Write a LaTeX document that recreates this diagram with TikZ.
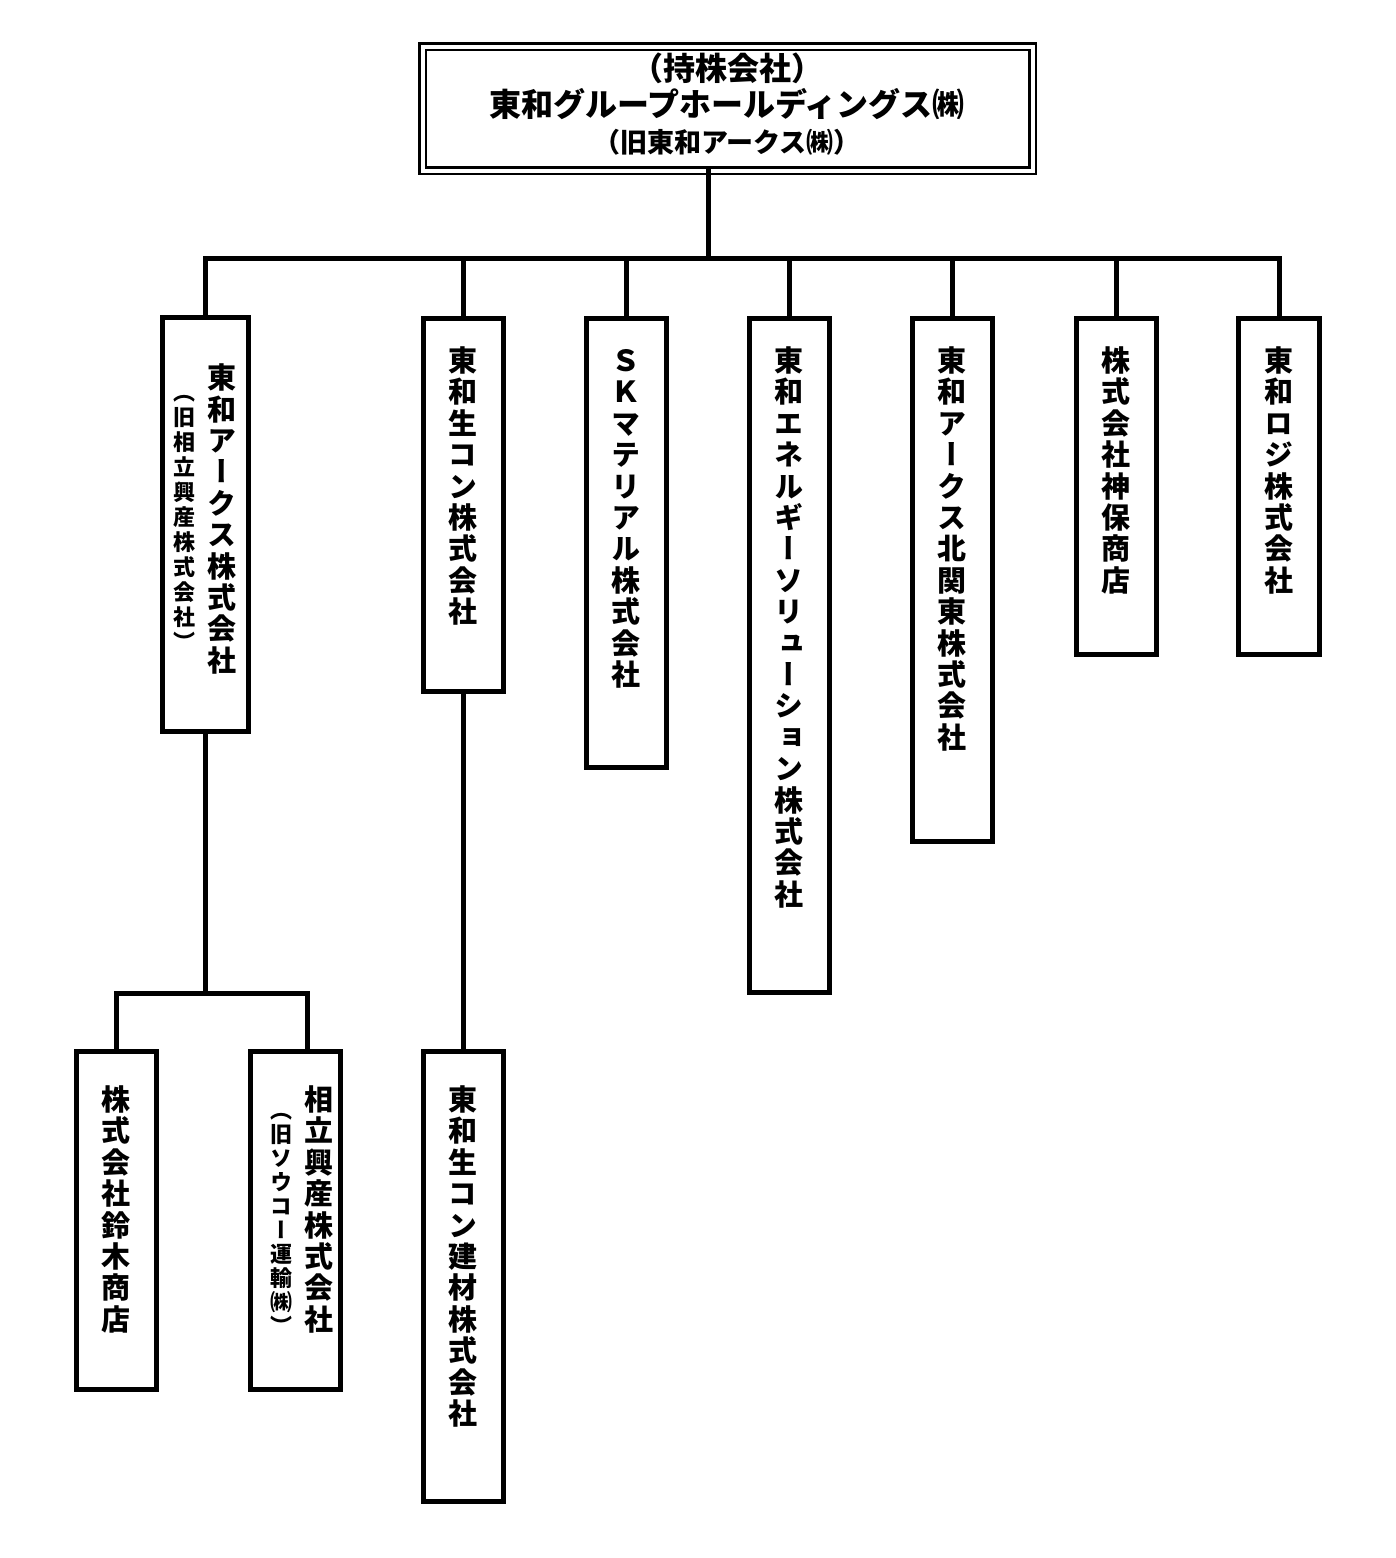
\documentclass[tikz,border=0pt]{standalone}
\usepackage{fontspec}
\newfontfamily\cjk{Noto Sans CJK JP}
\newfontfamily\cjkv[RawFeature=+vert]{Noto Sans CJK JP}
\newdimen\vtpitch
\def\vtloop#1{\ifx\relax#1\else\vtbox{#1}\expandafter\vtloop\fi}
\def\vtbox#1{\hbox to 1em{\vrule width0pt height\dimexpr0.38em+\vtpitch/2\relax depth\dimexpr\vtpitch/2-0.38em\relax\hss\smash{#1}\hss}}
\newcommand\vtext[1]{\vbox{\offinterlineskip\vtloop#1\relax}}
\newcommand\vtx[2][15.7pt]{\vtpitch=#1\relax\vtext{#2}}
\tikzset{
  conn/.style={line width=2.5pt, line join=miter, line cap=rect},
  cbox/.style 2 args={draw, line width=2.5pt, fill=white, inner sep=0pt,
    minimum width=#1*0.5pt, minimum height=#2*0.5pt},
  topbox/.style={draw, line width=1.3pt, double=white, double distance=2pt,
    inner sep=0pt, minimum width=610*0.5pt, minimum height=124*0.5pt},
  vt/.style={inner sep=0pt, anchor=north, font=\cjkv\bfseries\fontsize{14.5pt}{14.5pt}\selectfont},
  vts/.style={inner sep=0pt, anchor=north, font=\cjkv\bfseries\fontsize{11pt}{11pt}\selectfont},
  ht/.style={inner sep=0pt, font=\cjk\bfseries}
}
\begin{document}
\begin{tikzpicture}[x=0.5pt,y=-0.5pt]
\path[use as bounding box, fill=white] (0,0) rectangle (1396,1558);
% top box
\node[topbox] (top) at (727.5,108.5) {};
\node[ht, font=\cjk\bfseries\fontsize{16pt}{16pt}\selectfont] (t1) at (727,68) {（持株会社）};
\node[ht, font=\cjk\bfseries\fontsize{16pt}{16pt}\selectfont] (t2) at (727,104) {東和グループホールディングス㈱};
\node[ht, font=\cjk\bfseries\fontsize{13.5pt}{13.5pt}\selectfont] (t3) at (727,142) {（旧東和アークス㈱）};
% coordinates
\coordinate (trunk) at (708,258);
\coordinate (sub) at (205,993);
% first level boxes
\node[cbox={86}{414}] (B1) at (205,524) {};
\node[cbox={80}{373}] (B2) at (463,504.5) {};
\node[cbox={80}{449}] (B3) at (626,542.5) {};
\node[cbox={80}{674}] (B4) at (789,655) {};
\node[cbox={80}{523}] (B5) at (952,579.5) {};
\node[cbox={80}{336}] (B6) at (1116,486) {};
\node[cbox={81}{336}] (B7) at (1279,486) {};
% second level
\node[cbox={80}{338}] (B8) at (116,1220) {};
\node[cbox={90}{338}] (B9) at (295,1220) {};
\node[cbox={80}{450}] (B10) at (463,1276) {};
% connectors
\draw[conn] (top.south -| trunk) -- (trunk);
\draw[conn] (B1.north) |- (trunk -| B7.north) -- (B7.north);
\foreach \b in {B2,B3,B4,B5,B6} \draw[conn] (\b.north) -- (\b.north |- trunk);
\draw[conn] (B1.south) -- (sub);
\draw[conn] (B8.north) |- ([xshift=6pt]B9.north |- sub) -- ([xshift=6pt]B9.north);
\draw[conn] (B2.south) -- (B10.north);
% texts
\node[vt] (x1) at (222,361.5) {\vtx{東和アークス株式会社}};
\node[vts] (x1s) at (184,379.5) {\vtx[12.5pt]{︵旧相立興産株式会社︶}};
\node[vt] (x2) at (463,344.3) {\vtx{東和生コン株式会社}};
\node[vt] (x3) at (626,344.3) {\vtx{ＳＫマテリアル株式会社}};
\node[vt] (x4) at (789,344.3) {\vtx{東和エネルギーソリューション株式会社}};
\node[vt] (x5) at (952,344.3) {\vtx{東和アークス北関東株式会社}};
\node[vt] (x6) at (1116,344.3) {\vtx{株式会社神保商店}};
\node[vt] (x7) at (1279,344.3) {\vtx{東和ロジ株式会社}};
\node[vt] (x8) at (116,1083.3) {\vtx{株式会社鈴木商店}};
\node[vt] (x9) at (319,1083.3) {\vtx{相立興産株式会社}};
\node[vts] (x9s) at (281,1098) {\vtx[12pt]{︵旧ソウコー運輸㈱︶}};
\node[vt] (x10) at (463,1083.3) {\vtx{東和生コン建材株式会社}};
\end{tikzpicture}
\end{document}
